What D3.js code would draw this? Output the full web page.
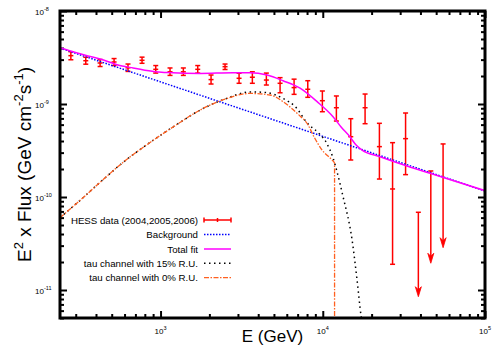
<!DOCTYPE html>
<html>
<head>
<meta charset="utf-8">
<script src="https://cdn.jsdelivr.net/npm/d3@7"></script>
<style>
body { margin: 0; background: #fff; }
text { font-family: "Liberation Sans", Arial, sans-serif; }
</style>
</head>
<body>
<div id="chart"></div>
<script>
// HESS points (energy in GeV, E^2 flux in GeV cm^-2 s^-1)
var hessE    = [280, 346, 424, 517, 630, 769, 934, 1144, 1382, 1695, 2048, 2498, 3048, 3681, 4490, 5455, 6655, 8082, 9943, 12130, 14880, 18230, 22340, 26930, 32390];
var hessFlux = [3.31e-9, 2.92e-9, 2.76e-9, 2.83e-9, 2.45e-9, 2.95e-9, 2.36e-9, 2.22e-9, 2.22e-9, 2.36e-9, 1.83e-9, 2.52e-9, 1.89e-9, 1.94e-9, 1.81e-9, 1.67e-9, 1.50e-9, 1.44e-9, 1.085e-9, 9.12e-10, 4.45e-10, 9.12e-10, 3.48e-10, 1.22e-10, 4.24e-10];
var hessLo   = [2.99e-9, 2.68e-9, 2.53e-9, 2.59e-9, 2.24e-9, 2.74e-9, 2.15e-9, 2.03e-9, 2.03e-9, 2.15e-9, 1.64e-9, 2.35e-9, 1.67e-9, 1.67e-9, 1.60e-9, 1.32e-9, 1.27e-9, 1.18e-9, 8.26e-10, 6.56e-10, 2.50e-10, 6.14e-10, 1.56e-10, 1.89e-11, 1.74e-10];
var hessHi   = [3.65e-9, 3.18e-9, 3.01e-9, 3.08e-9, 2.69e-9, 3.19e-9, 2.59e-9, 2.44e-9, 2.44e-9, 2.59e-9, 2.05e-9, 2.69e-9, 2.14e-9, 2.22e-9, 2.15e-9, 1.92e-9, 1.85e-9, 1.78e-9, 1.38e-9, 1.22e-9, 6.95e-10, 1.28e-9, 6.20e-10, 3.84e-10, 8.0e-10];

// upper limits (arrows)
var ulE    = [38830, 46340, 55160];
var ulFlux = [6.85e-11, 1.905e-10, 3.72e-10];
var ulEnd  = [8.47e-12, 1.94e-11, 2.85e-11];

// Background
var bgE    = [240, 1000, 10000, 100000];
var bgFlux = [4.00e-9, 1.73e-9, 4.49e-10, 1.16e-10];

// Total fit
var fitE    = [240, 357, 424, 579, 677, 925, 1097, 1752, 2799, 3563, 4535, 5691, 7244, 9224, 11570, 12970, 14730, 16050, 17470, 22560, 33090, 45860, 100000];
var fitFlux = [4.03e-9, 3.28e-9, 3.05e-9, 2.56e-9, 2.44e-9, 2.22e-9, 2.18e-9, 2.13e-9, 2.17e-9, 2.17e-9, 2.05e-9, 1.78e-9, 1.48e-9, 1.06e-9, 7.30e-10, 5.66e-10, 4.42e-10, 3.62e-10, 3.20e-10, 2.71e-10, 2.15e-10, 1.80e-10, 1.17e-10];

// tau channel 15% R.U.
var tau15E    = [240, 319, 424, 604, 862, 1229, 1752, 2498, 3563, 4472, 5691, 6748, 8119, 9422, 10555, 11570, 12250, 13340, 15160, 16270, 17230, 17700];
var tau15Flux = [6.0e-11, 9.2e-11, 1.44e-10, 2.45e-10, 3.86e-10, 5.85e-10, 8.6e-10, 1.13e-9, 1.35e-9, 1.33e-9, 1.146e-9, 9.40e-10, 6.10e-10, 4.88e-10, 3.81e-10, 2.63e-10, 1.86e-10, 1.007e-10, 3.45e-11, 1.28e-11, 5.25e-12, 4.0e-12];

// tau channel 0% R.U.
var tau0E    = [240, 319, 424, 604, 862, 1229, 1752, 2498, 3563, 4733, 5691, 6943, 8119, 8840, 9901, 11410, 11820, 11821];
var tau0Flux = [6.0e-11, 9.2e-11, 1.44e-10, 2.45e-10, 3.86e-10, 5.85e-10, 8.6e-10, 1.13e-9, 1.30e-9, 1.25e-9, 1.06e-9, 7.94e-10, 5.94e-10, 4.42e-10, 3.20e-10, 2.50e-10, 2.32e-10, 1e-13];

var legendNames = ["HESS data (2004,2005,2006)", "Background", "Total fit", "tau channel with 15% R.U.", "tau channel with 0% R.U."];

var width = 500, height = 350,
    margin = {left: 60, right: 15, top: 11, bottom: 32};

var svg = d3.select("#chart").append("svg")
  .attr("width", width)
  .attr("height", height);

var x = d3.scaleLog().domain([240, 1e5]).range([margin.left, width - margin.right]);
var y = d3.scaleLog().domain([5e-12, 1e-8]).range([height - margin.bottom, margin.top]);

function zip(a, b) { return a.map(function (d, i) { return [d, b[i]]; }); }

svg.append("clipPath").attr("id", "plot")
  .append("rect")
  .attr("x", x.range()[0]).attr("y", y.range()[1])
  .attr("width", x.range()[1] - x.range()[0])
  .attr("height", y.range()[0] - y.range()[1]);

// ticks, inward on all four sides
function isMajor(v) { return Math.abs(Math.log10(v) - Math.round(Math.log10(v))) < 1e-6; }
var xMinor = x.ticks().filter(function (d) { return !isMajor(d); }),
    xMajor = x.ticks().filter(isMajor),
    yMinor = y.ticks().filter(function (d) { return !isMajor(d); }),
    yMajor = y.ticks().filter(isMajor);

function tickAxis(axis, vals, len, tr) {
  var g = svg.append("g").attr("transform", tr)
    .call(axis.tickValues(vals).tickSize(-len).tickFormat(""));
  g.select(".domain").remove();
  g.selectAll("line").attr("stroke", "#000").attr("stroke-width", 2);
}
var xb = y.range()[0], xt = y.range()[1], yl = x.range()[0], yr = x.range()[1];
tickAxis(d3.axisBottom(x), xMinor, 4, "translate(0," + xb + ")");
tickAxis(d3.axisBottom(x), xMajor, 7, "translate(0," + xb + ")");
tickAxis(d3.axisTop(x), xMinor, 4, "translate(0," + xt + ")");
tickAxis(d3.axisTop(x), xMajor, 7, "translate(0," + xt + ")");
tickAxis(d3.axisLeft(y), yMinor, 4, "translate(" + yl + ",0)");
tickAxis(d3.axisLeft(y), yMajor, 7, "translate(" + yl + ",0)");
tickAxis(d3.axisRight(y), yMinor, 4, "translate(" + yr + ",0)");
tickAxis(d3.axisRight(y), yMajor, 7, "translate(" + yr + ",0)");

// tick labels 10^n
xMajor.forEach(function (v) {
  var t = svg.append("text").attr("x", x(v)).attr("y", xb + 15.5)
    .attr("text-anchor", "middle").attr("font-size", 8);
  t.append("tspan").text("10");
  t.append("tspan").attr("font-size", 5.5).attr("dy", -4).text(Math.round(Math.log10(v)));
});
yMajor.forEach(function (v) {
  var t = svg.append("text").attr("x", 35).attr("y", y(v) + 4)
    .attr("font-size", 8);
  t.append("tspan").text("10");
  t.append("tspan").attr("font-size", 5.5).attr("dy", -4).text(Math.round(Math.log10(v)));
});

// axis titles
svg.append("text")
  .attr("x", (x.range()[0] + x.range()[1]) / 2)
  .attr("y", 342)
  .attr("text-anchor", "middle")
  .attr("font-size", 17)
  .text("E (GeV)");

var yt = svg.append("text")
  .attr("transform", "translate(31," + ((y.range()[0] + y.range()[1]) / 2) + ") rotate(-90)")
  .attr("text-anchor", "middle")
  .attr("font-size", 19);
yt.append("tspan").text("E");
yt.append("tspan").attr("font-size", 13).attr("dy", -8).text("2");
yt.append("tspan").attr("dy", 8).text(" x Flux (GeV cm");
yt.append("tspan").attr("font-size", 13).attr("dy", -8).text("-2");
yt.append("tspan").attr("dy", 8).text("s");
yt.append("tspan").attr("font-size", 13).attr("dy", -8).text("-1");
yt.append("tspan").attr("dy", 8).text(")");

var plot = svg.append("g").attr("clip-path", "url(#plot)");

// HESS data error bars
var red = "#ff0000", cap = 2.5;
var pts = plot.selectAll("g.pt").data(hessE).enter().append("g").attr("class", "pt");
pts.append("line")
  .attr("x1", function (d) { return x(d); }).attr("x2", function (d) { return x(d); })
  .attr("y1", function (d, i) { return y(hessLo[i]); }).attr("y2", function (d, i) { return y(hessHi[i]); });
pts.append("line")
  .attr("x1", function (d) { return x(d) - cap; }).attr("x2", function (d) { return x(d) + cap; })
  .attr("y1", function (d, i) { return y(hessLo[i]); }).attr("y2", function (d, i) { return y(hessLo[i]); });
pts.append("line")
  .attr("x1", function (d) { return x(d) - cap; }).attr("x2", function (d) { return x(d) + cap; })
  .attr("y1", function (d, i) { return y(hessHi[i]); }).attr("y2", function (d, i) { return y(hessHi[i]); });
pts.append("line")
  .attr("x1", function (d) { return x(d) - cap; }).attr("x2", function (d) { return x(d) + cap; })
  .attr("y1", function (d, i) { return y(hessFlux[i]); }).attr("y2", function (d, i) { return y(hessFlux[i]); });
pts.selectAll("line").attr("stroke", red).attr("stroke-width", 1.5);

// upper limits
var ul = plot.selectAll("g.ul").data(ulE).enter().append("g").attr("class", "ul");
ul.append("line")
  .attr("x1", function (d) { return x(d); }).attr("x2", function (d) { return x(d); })
  .attr("y1", function (d, i) { return y(ulFlux[i]); }).attr("y2", function (d, i) { return y(ulEnd[i]) - 6; })
  .attr("stroke", red).attr("stroke-width", 1.5);
ul.append("line")
  .attr("x1", function (d) { return x(d) - cap; }).attr("x2", function (d) { return x(d) + cap; })
  .attr("y1", function (d, i) { return y(ulFlux[i]); }).attr("y2", function (d, i) { return y(ulFlux[i]); })
  .attr("stroke", red).attr("stroke-width", 1.5);
ul.append("path")
  .attr("d", function (d, i) {
    var cx = x(d), ty = y(ulEnd[i]);
    return "M" + (cx - 3) + "," + (ty - 10) + "L" + cx + "," + ty + "L" + (cx + 3) + "," + (ty - 10) + "L" + cx + "," + (ty - 7) + "Z";
  })
  .attr("fill", red).attr("stroke", red).attr("stroke-width", 0.8);

// model curves
var line = d3.line()
  .x(function (d) { return x(d[0]); })
  .y(function (d) { return y(d[1]); })
  .curve(d3.curveMonotoneX);

var styles = [
  null,
  {data: zip(bgE, bgFlux), color: "#0000ff", dash: "1.5,1.5", w: 1.5},
  {data: zip(fitE, fitFlux), color: "#ff00ff", dash: null, w: 1.5},
  {data: zip(tau15E, tau15Flux), color: "#000000", dash: "1.5,3.5", w: 1.5},
  {data: zip(tau0E, tau0Flux), color: "#ff6020", dash: "5,1.5,1.5,1.5", w: 1.3}
];
styles.forEach(function (s) {
  if (!s) return;
  plot.append("path").datum(s.data)
    .attr("d", line)
    .attr("fill", "none")
    .attr("stroke", s.color)
    .attr("stroke-width", s.w)
    .attr("stroke-dasharray", s.dash);
});

// legend
var lg = svg.append("g");
var rowY = [220, 234.5, 249, 263.3, 277.7];
legendNames.forEach(function (name, i) {
  lg.append("text").attr("x", 198).attr("y", rowY[i] + 3.5)
    .attr("text-anchor", "end").attr("font-size", 9.7).text(name);
  var s = styles[i];
  if (s) {
    lg.append("line").attr("x1", 204).attr("x2", 231).attr("y1", rowY[i]).attr("y2", rowY[i])
      .attr("stroke", s.color).attr("stroke-width", s.w).attr("stroke-dasharray", s.dash);
  } else {
    [[204, 231, rowY[i], rowY[i]], [204, 204, rowY[i] - 2.5, rowY[i] + 2.5],
     [231, 231, rowY[i] - 2.5, rowY[i] + 2.5], [217.5, 217.5, rowY[i] - 2, rowY[i] + 2]].forEach(function (l) {
      lg.append("line").attr("x1", l[0]).attr("x2", l[1]).attr("y1", l[2]).attr("y2", l[3])
        .attr("stroke", red).attr("stroke-width", 1.5);
    });
  }
});

// frame
svg.append("rect")
  .attr("x", x.range()[0]).attr("y", y.range()[1])
  .attr("width", x.range()[1] - x.range()[0])
  .attr("height", y.range()[0] - y.range()[1])
  .attr("fill", "none").attr("stroke", "#000").attr("stroke-width", 3);
</script>
</body>
</html>
